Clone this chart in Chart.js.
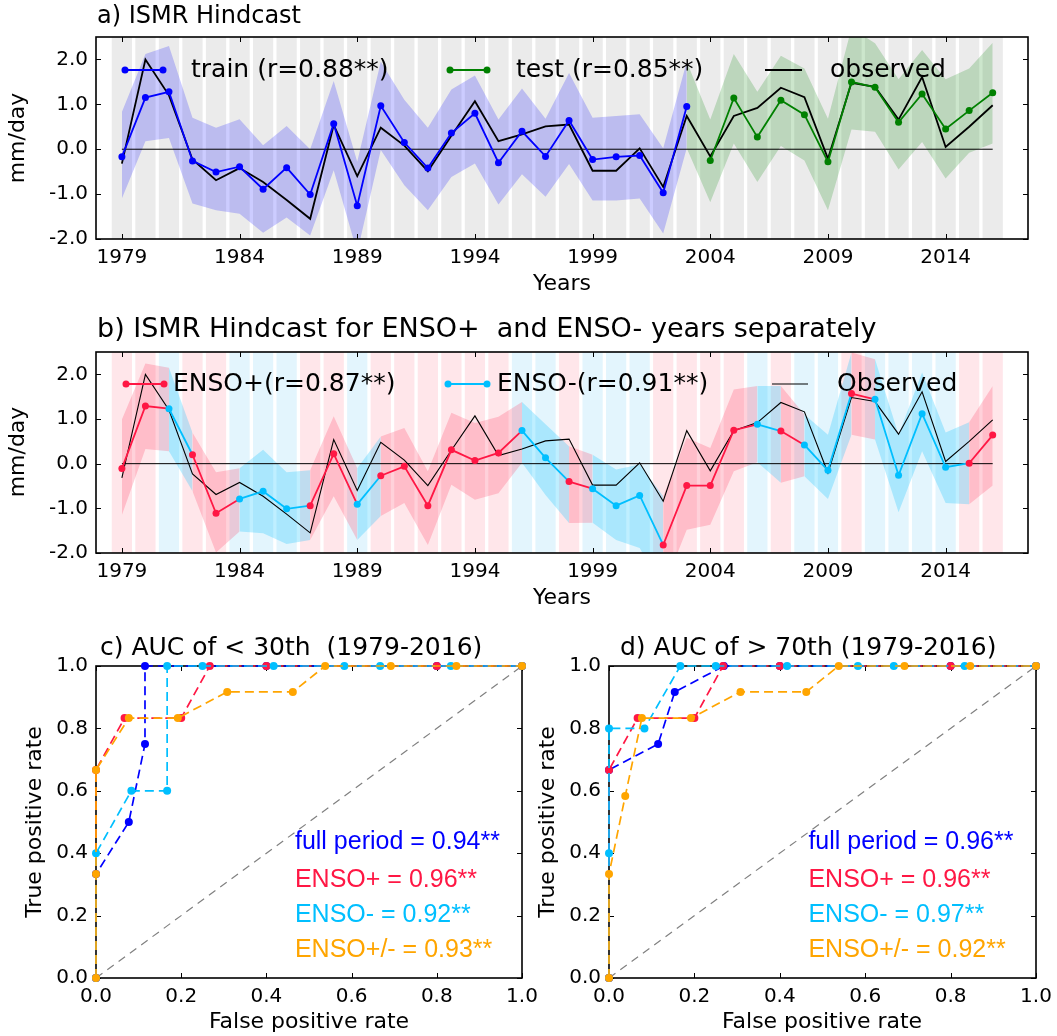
<!DOCTYPE html>
<html><head><meta charset="utf-8">
<script src="https://cdn.jsdelivr.net/npm/chart.js@4.4.1/dist/chart.umd.min.js"></script>
<style>
html,body{margin:0;padding:0;background:#fff;}
body{width:1057px;height:1036px;position:relative;overflow:hidden;}
canvas{position:absolute;}
</style></head><body>
<canvas id="ca" width="1057" height="310" style="left:0;top:0"></canvas>
<canvas id="cb" width="1057" height="315" style="left:0;top:310px"></canvas>
<canvas id="cc" width="548" height="411" style="left:0;top:625px"></canvas>
<canvas id="cd" width="527" height="411" style="left:530px;top:625px"></canvas>
<script>
// ---------------- DATA ----------------
const years = [1979,1980,1981,1982,1983,1984,1985,1986,1987,1988,1989,1990,1991,1992,1993,1994,1995,1996,1997,1998,
               1999,2000,2001,2002,2003,2004,2005,2006,2007,2008,2009,2010,2011,2012,2013,2014,2015,2016];
const yearTicks = [1979,1984,1989,1994,1999,2004,2009,2014];
const mmTicks = [-2.0,-1.5,-1.0,-0.5,0.0,0.5,1.0,1.5,2.0];
const rocTicks = [0.0,0.2,0.4,0.6,0.8,1.0];

// panel a
const trainYears = [1979,1980,1981,1982,1983,1984,1985,1986,1987,1988,1989,1990,1991,1992,1993,1994,1995,1996,1997,1998,1999,2000,2001,2002,2003];
const trainPred  = [-0.17,1.15,1.28,-0.26,-0.51,-0.39,-0.89,-0.41,-1.01,0.57,-1.26,0.97,0.15,-0.42,0.36,0.80,-0.30,0.40,-0.16,0.64,-0.23,-0.17,-0.14,-0.97,0.95];
const trainUpper = [0.83,2.12,2.30,0.70,0.48,0.67,0.09,0.52,0.00,1.52,-0.28,1.95,1.10,0.48,1.33,1.64,0.66,1.35,0.68,1.70,0.70,0.74,0.78,0.02,1.95];
const trainLower = [-1.10,0.18,0.25,-1.21,-1.36,-1.44,-1.86,-1.52,-1.92,-0.47,-2.30,-0.02,-0.80,-1.36,-0.62,-0.32,-1.23,-0.56,-1.06,-0.33,-1.14,-1.14,-1.10,-1.88,0.02];
const testYears = [2004,2005,2006,2007,2008,2009,2010,2011,2012,2013,2014,2015,2016];
const testPred  = [-0.25,1.14,0.27,1.09,0.77,-0.28,1.50,1.38,0.60,1.23,0.45,0.86,1.26];
const testBandYears = [2003,2004,2005,2006,2007,2008,2009,2010,2011,2012,2013,2014,2015,2016];
const testUpper = [1.95,0.66,2.12,1.28,2.08,1.80,0.68,2.70,2.36,1.56,2.21,1.56,1.80,2.37];
const testLower = [0.02,-1.18,0.13,-0.73,0.07,-0.25,-1.36,0.44,0.39,-0.45,0.16,-0.65,-0.08,0.13];
const observed = [-0.32,2.00,1.20,-0.23,-0.69,-0.42,-0.73,-1.13,-1.55,0.54,-0.60,0.48,0.08,-0.49,0.30,1.07,0.18,0.33,0.51,0.55,
                  -0.48,-0.48,0.02,-0.84,0.74,-0.16,0.74,0.92,1.37,1.16,-0.21,1.48,1.39,0.66,1.61,0.05,0.50,0.98];

// panel b
const ensoClass = ['+','+','-','+','+','-','-','-','+','+','-','+','+','+','+','+','+','-','-','+',
                   '-','-','-','+','+','+','+','-','+','-','-','+','-','-','-','-','+','+'];
const ensoPred  = [-0.11,1.29,1.23,0.20,-1.11,-0.79,-0.62,-1.01,-0.94,0.22,-0.91,-0.27,-0.06,-0.94,0.31,0.07,0.24,0.74,0.13,-0.40,
                   -0.56,-0.94,-0.71,-1.82,-0.49,-0.49,0.75,0.88,0.73,0.42,-0.15,1.57,1.44,-0.26,1.12,-0.08,0.01,0.64];
const ensoUpper = [0.99,2.24,2.15,0.69,-0.19,-0.10,0.31,-0.19,-0.15,1.06,-0.10,0.61,0.80,-0.17,1.14,0.91,1.05,1.38,0.88,0.39,
                   0.20,-0.13,-0.02,-0.73,0.58,0.35,1.66,1.74,1.74,1.10,0.65,2.49,2.34,0.65,2.04,0.70,0.93,1.74];
const ensoLower = [-1.15,0.33,0.28,-0.62,-1.99,-1.52,-1.56,-1.80,-1.71,-0.73,-1.71,-1.17,-0.88,-1.82,-0.47,-0.81,-0.66,0.02,-0.70,-1.33,
                   -1.32,-1.71,-1.89,-2.80,-1.48,-1.37,-0.17,0.03,-0.43,-0.28,-0.79,0.65,0.54,-1.09,0.28,-0.88,-0.91,-0.49];

// panel c (< 30th)
const cFullX  = [0,0,0.077,0.115,0.115,0.4,0.8,1.0];
const cFullY  = [0,0.333,0.5,0.75,1,1,1,1];
const cPlusX  = [0,0,0.067,0.2,0.267,0.4,0.8,1.0];
const cPlusY  = [0,0.667,0.833,0.833,1,1,1,1];
const cMinusX = [0,0,0.083,0.167,0.167,0.25,0.417,0.583,0.667,0.833,1.0];
const cMinusY = [0,0.4,0.6,0.6,1,1,1,1,1,1,1];
const cAllX   = [0,0,0,0.077,0.192,0.308,0.462,0.538,0.692,0.846,1.0];
const cAllY   = [0,0.333,0.667,0.833,0.833,0.917,0.917,1,1,1,1];
// panel d (> 70th)
const dFullX  = [0,0,0.115,0.154,0.269,0.4,0.8,1.0];
const dFullY  = [0,0.667,0.75,0.917,1,1,1,1];
const dPlusX  = [0,0,0.067,0.2,0.267,0.4,0.8,1.0];
const dPlusY  = [0,0.667,0.833,0.833,1,1,1,1];
const dMinusX = [0,0,0,0.083,0.167,0.25,0.417,0.583,0.667,0.833,1.0];
const dMinusY = [0,0.4,0.8,0.8,1,1,1,1,1,1,1];
const dAllX   = [0,0,0.038,0.077,0.192,0.308,0.462,0.538,0.692,0.846,1.0];
const dAllY   = [0,0.333,0.583,0.833,0.833,0.917,0.917,1,1,1,1];
const cAUC = ['full period = 0.94**','ENSO+ = 0.96**','ENSO- = 0.92**','ENSO+/- = 0.93**'];
const dAUC = ['full period = 0.96**','ENSO+ = 0.96**','ENSO- = 0.97**','ENSO+/- = 0.92**'];

// ---------------- STYLE ----------------
Chart.defaults.font.family = "'DejaVu Sans', sans-serif";
Chart.defaults.color = '#000';
const BLUE='#0000ff', GREEN='#008000', RED='#ff1744', SKY='#00bfff', ORANGE='#ffa500';
const pts = (xs, ys) => xs.map((x,i)=>({x:x, y:ys[i]}));

// ---------------- PLUGIN (frame, inward ticks, texts) ----------------
function drawFrame(chart, o){
  const {ctx, chartArea:a, scales:{x,y}} = chart;
  const L = o.tickLen || 5;
  ctx.save();
  ctx.strokeStyle = '#000'; ctx.lineWidth = 1;
  ctx.beginPath();
  x.ticks.forEach(t=>{ const p = Math.round(x.getPixelForValue(t.value))+0.5;
    ctx.moveTo(p,a.bottom); ctx.lineTo(p,a.bottom-L); ctx.moveTo(p,a.top); ctx.lineTo(p,a.top+L); });
  y.ticks.forEach(t=>{ const p = Math.round(y.getPixelForValue(t.value))+0.5;
    ctx.moveTo(a.left,p); ctx.lineTo(a.left+L,p); ctx.moveTo(a.right,p); ctx.lineTo(a.right-L,p); });
  ctx.stroke();
  ctx.lineWidth = 1.6;
  ctx.strokeRect(a.left, a.top, a.right-a.left, a.bottom-a.top);
  ctx.restore();
}
const deco = {
  id:'deco',
  beforeDatasetsDraw(chart, args, o){ if (o.frameBelow) drawFrame(chart,o); },
  afterDatasetsDraw(chart, args, o){ if (!o.frameBelow) drawFrame(chart,o); },
  afterDraw(chart, args, o){
    const {ctx, scales:{x,y}} = chart;
    ctx.save();
    (o.legend||[]).forEach(l=>{
      ctx.strokeStyle = l.color; ctx.lineWidth = l.lw;
      ctx.beginPath(); ctx.moveTo(l.x0,l.y); ctx.lineTo(l.x1,l.y); ctx.stroke();
      if (l.marker){ ctx.fillStyle = l.color;
        [l.x0,l.x1].forEach(px=>{ ctx.beginPath(); ctx.arc(px,l.y,3.5,0,Math.PI*2); ctx.fill(); }); }
      ctx.fillStyle = '#000'; ctx.font = l.font; ctx.textAlign='left'; ctx.textBaseline='middle';
      ctx.fillText(l.text, l.tx, l.y);
    });
    (o.texts||[]).forEach(t=>{
      ctx.save();
      const px = t.vx!==undefined ? x.getPixelForValue(t.vx) : t.x;
      const py = t.vy!==undefined ? y.getPixelForValue(t.vy) : t.y;
      ctx.translate(px,py); if (t.rot) ctx.rotate(t.rot);
      ctx.font = t.font; ctx.fillStyle = t.color||'#000';
      ctx.textAlign = t.align||'left'; ctx.textBaseline='middle';
      ctx.fillText(t.text,0,0);
      ctx.restore();
    });
    ctx.restore();
  }
};

function yearScales(axisH){
  return {
    x:{type:'linear', min:1977.9, max:2017.5, offset:false,
       grid:{display:false, drawTicks:false}, border:{display:false},
       ticks:{font:{size:20}, padding:7, autoSkip:false, maxRotation:0, callback:v=>String(v)},
       afterBuildTicks:s=>{ s.ticks = yearTicks.map(v=>({value:v})); },
       afterFit:s=>{ s.height = axisH; s.paddingLeft=0; s.paddingRight=0; }},
    y:{type:'linear', min:-2, max:2.5,
       grid:{display:false, drawTicks:false}, border:{display:false},
       ticks:{font:{size:20}, padding:8, callback:v=>Number.isInteger(v)? v.toFixed(1):''},
       afterBuildTicks:s=>{ s.ticks = mmTicks.map(v=>({value:v})); },
       afterFit:s=>{ s.width = 96; s.paddingTop=0; s.paddingBottom=0; }}
  };
}
const baseOpts = {responsive:false, animation:false, devicePixelRatio:1,
                  events:[], plugins:{legend:{display:false}, tooltip:{enabled:false}}};
const TF = "25px 'DejaVu Sans'", LF = "25px 'DejaVu Sans'", AF = "22px 'DejaVu Sans'";
const NOPT = {pointRadius:0, borderColor:'rgba(0,0,0,0)', borderWidth:0};

// ---------------- PANEL A ----------------
new Chart(document.getElementById('ca'), {
  type:'line',
  data:{datasets:[
    Object.assign({data:pts(trainYears,trainUpper), fill:'+1', backgroundColor:'rgba(0,0,255,0.2)', order:8}, NOPT),
    Object.assign({data:pts(trainYears,trainLower), fill:false, order:8}, NOPT),
    Object.assign({data:pts(testBandYears,testUpper), fill:'+1', backgroundColor:'rgba(0,128,0,0.2)', order:8}, NOPT),
    Object.assign({data:pts(testBandYears,testLower), fill:false, order:8}, NOPT),
    {data:[{x:years[0],y:0},{x:years[years.length-1],y:0}], borderColor:'#000', borderWidth:1, pointRadius:0, order:6},
    {data:pts(years,observed), borderColor:'#000', borderWidth:1.8, pointRadius:0, order:4, tension:0},
    {data:pts(trainYears,trainPred), borderColor:BLUE, borderWidth:1.8, pointRadius:3.5, pointBackgroundColor:BLUE, pointBorderWidth:0, order:2},
    {data:pts(testYears,testPred), borderColor:GREEN, borderWidth:1.8, pointRadius:3.5, pointBackgroundColor:GREEN, pointBorderWidth:0, order:2},
    {type:'bar', data:years.map(v=>({x:v, y:[-2,2.5]})), backgroundColor:'#ebebeb', borderWidth:0,
     categoryPercentage:1.0, barPercentage:0.86, order:10}
  ]},
  options:Object.assign({}, baseOpts, {
    layout:{padding:{left:0, right:29, top:37, bottom:0}},
    scales:yearScales(71),
    plugins:Object.assign({}, baseOpts.plugins, {deco:{
      legend:[
        {x0:125,x1:163,y:70,color:BLUE,lw:1.8,marker:true,tx:191,text:'train (r=0.88**)',font:LF},
        {x0:450,x1:487,y:70,color:GREEN,lw:1.8,marker:true,tx:516,text:'test (r=0.85**)',font:LF},
        {x0:765,x1:802,y:70,color:'#000',lw:1.8,marker:false,tx:830,text:'observed',font:LF}],
      texts:[
        {text:'a) ISMR Hindcast', x:97, y:17, font:"24px 'DejaVu Sans'"},
        {text:'mm/day', x:18, y:138, font:AF, rot:-Math.PI/2, align:'center'},
        {text:'Years', x:562, y:284, font:AF, align:'center'}]
    }})
  }),
  plugins:[deco]
});

// ---------------- PANEL B ----------------
const ensoColor = i => ensoClass[i]==='+' ? RED : SKY;
const ensoBand = i => ensoClass[i]==='+' ? 'rgba(255,23,68,0.2)' : 'rgba(0,191,255,0.25)';
new Chart(document.getElementById('cb'), {
  type:'line',
  data:{datasets:[
    Object.assign({data:pts(years,ensoUpper), fill:'+1', backgroundColor:'rgba(255,23,68,0.2)', order:8,
      segment:{backgroundColor:c=>ensoBand(c.p0DataIndex), borderColor:'rgba(0,0,0,0)'}}, NOPT),
    Object.assign({data:pts(years,ensoLower), fill:false, order:8}, NOPT),
    {data:[{x:years[0],y:0},{x:years[years.length-1],y:0}], borderColor:'#000', borderWidth:1, pointRadius:0, order:6},
    {data:pts(years,observed), borderColor:'#000', borderWidth:1.1, pointRadius:0, order:3},
    {data:pts(years,ensoPred), borderColor:RED, borderWidth:1.8, pointRadius:3.5,
     pointBackgroundColor:years.map((v,i)=>ensoColor(i)), pointBorderWidth:0, order:2,
     segment:{borderColor:c=>ensoColor(c.p0DataIndex)}},
    {type:'bar', data:years.map(v=>({x:v, y:[-2,2.5]})),
     backgroundColor:years.map((v,i)=>ensoClass[i]==='+' ? '#ffe6ea' : '#e3f5fd'), borderWidth:0,
     categoryPercentage:1.0, barPercentage:0.86, order:10}
  ]},
  options:Object.assign({}, baseOpts, {
    layout:{padding:{left:0, right:29, top:42, bottom:0}},
    scales:yearScales(72),
    plugins:Object.assign({}, baseOpts.plugins, {deco:{
      legend:[
        {x0:126,x1:164,y:74,color:RED,lw:1.8,marker:true,tx:173,text:'ENSO+(r=0.87**)',font:LF},
        {x0:448,x1:487,y:74,color:SKY,lw:1.8,marker:true,tx:497,text:'ENSO-(r=0.91**)',font:LF},
        {x0:772,x1:808,y:74,color:'#000',lw:1.1,marker:false,tx:837,text:'Observed',font:LF}],
      texts:[
        {text:'b) ISMR Hindcast for ENSO+  and ENSO- years separately', x:97, y:20, font:"27px 'DejaVu Sans'"},
        {text:'mm/day', x:18, y:142, font:AF, rot:-Math.PI/2, align:'center'},
        {text:'Years', x:562, y:288, font:AF, align:'center'}]
    }})
  }),
  plugins:[deco]
});

// ---------------- ROC PANELS ----------------
function rocChart(id, yAxisW, padRight, series, aucTexts, title, titleX){
  const cols = [BLUE, RED, SKY, ORANGE];
  const ds = [{data:[{x:0,y:0},{x:1,y:1}], borderColor:'#808080', borderWidth:1.2, borderDash:[8,6], pointRadius:0, order:9}];
  series.forEach((s,i)=>ds.push({data:pts(s[0],s[1]), borderColor:cols[i], borderWidth:1.7, borderDash:[9,5],
     pointRadius:4, pointBackgroundColor:cols[i], pointBorderWidth:0, clip:false, order:8-i}));
  const aucY = [0.436,0.314,0.202,0.09];
  new Chart(document.getElementById(id), {
    type:'line',
    data:{datasets:ds},
    options:Object.assign({}, baseOpts, {
      layout:{padding:{left:0, right:padRight, top:41, bottom:0}},
      scales:{
        x:{type:'linear', min:0, max:1, grid:{display:false, drawTicks:false}, border:{display:false},
           ticks:{font:{size:20}, padding:7, autoSkip:false, maxRotation:0, callback:v=>v.toFixed(1)},
           afterBuildTicks:s=>{ s.ticks = rocTicks.map(v=>({value:v})); },
           afterFit:s=>{ s.height = 58; s.paddingLeft=0; s.paddingRight=0; }},
        y:{type:'linear', min:0, max:1, grid:{display:false, drawTicks:false}, border:{display:false},
           ticks:{font:{size:20}, padding:8, callback:v=>v.toFixed(1)},
           afterBuildTicks:s=>{ s.ticks = rocTicks.map(v=>({value:v})); },
           afterFit:s=>{ s.width = yAxisW; s.paddingTop=0; s.paddingBottom=0; }}
      },
      plugins:Object.assign({}, baseOpts.plugins, {deco:{
        frameBelow:true,
        texts:[
          {text:title, x:titleX, y:23, font:TF},
          {text:'True positive rate', x:yAxisW-61, y:197, font:AF, rot:-Math.PI/2, align:'center'},
          {text:'False positive rate', x:yAxisW + 213, y:397, font:AF, align:'center'}
        ].concat(aucTexts.map((t,i)=>({text:t, vx:0.467, vy:aucY[i], color:cols[i], font:"25px 'Liberation Sans', Arial, sans-serif"})))
      }})
    }),
    plugins:[deco]
  });
}
rocChart('cc', 96, 26, [[cFullX,cFullY],[cPlusX,cPlusY],[cMinusX,cMinusY],[cAllX,cAllY]], cAUC, 'c) AUC of < 30th  (1979-2016)', 100);
rocChart('cd', 79, 21, [[dFullX,dFullY],[dPlusX,dPlusY],[dMinusX,dMinusY],[dAllX,dAllY]], dAUC, 'd) AUC of > 70th (1979-2016)', 90);
</script>
</body></html>
